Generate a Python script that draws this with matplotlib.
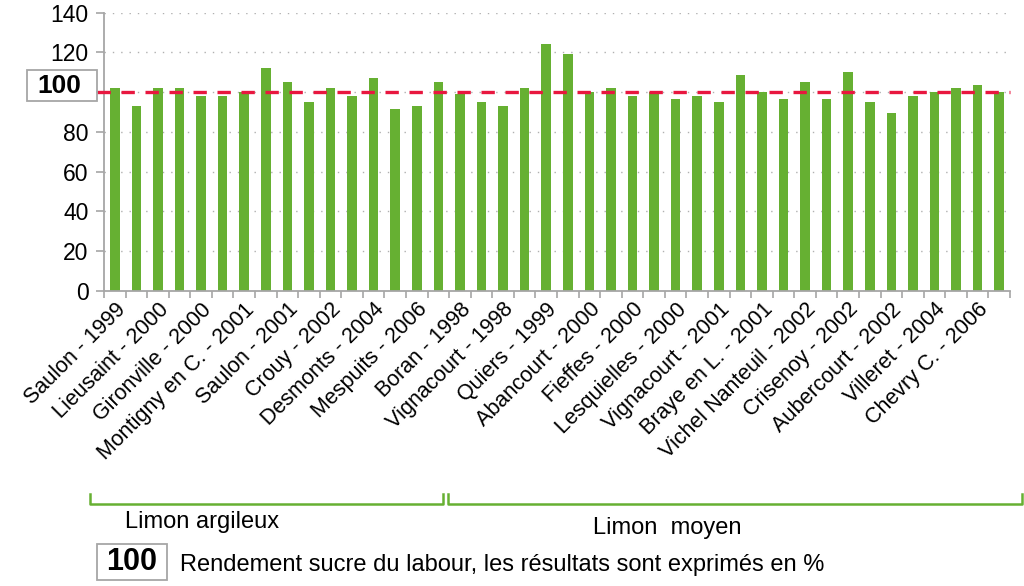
import numpy as np
import matplotlib
matplotlib.use('Agg')
import matplotlib.pyplot as plt
from matplotlib.lines import Line2D
from matplotlib.patches import Rectangle

plt.rcParams['font.family'] = ['Liberation Sans', 'DejaVu Sans']

# Rendement sucre (%), un essai par barre
vals = [102, 93, 102, 102, 98, 98, 100, 112, 105, 95, 102, 98, 107, 91.5, 93, 105,
        99, 95, 93, 102, 124, 119, 100, 102, 98, 100, 96.5, 98, 95, 108.5, 100,
        96.5, 105, 96.5, 110, 95, 89.5, 98, 100, 102, 103.5, 100]
# une étiquette sur deux barres
labels = ['Saulon - 1999', 'Lieusaint - 2000', 'Gironville - 2000', 'Montigny en C. - 2001',
          'Saulon - 2001', 'Crouy - 2002', 'Desmonts - 2004', 'Mespuits - 2006',
          'Boran - 1998', 'Vignacourt - 1998', 'Quiers - 1999', 'Abancourt - 2000',
          'Fieffes - 2000', 'Lesquielles - 2000', 'Vignacourt - 2001', 'Braye en L. - 2001',
          'Vichel Nanteuil - 2002', 'Crisenoy - 2002', 'Aubercourt - 2002',
          'Villeret - 2004', 'Chevry C. - 2006']
groups = ['Limon argileux', 'Limon  moyen']
yticks = [0, 20, 40, 60, 80, 100, 120, 140]
reference = 100

green = '#66B032'
red = '#E8173F'
gray = '#A6A6A6'

W, H = 1024, 586
def fx(px):
    return px / W
def fy(py):
    return 1 - py / H

fig = plt.figure(figsize=(W / 100, H / 100), dpi=100)
ax = fig.add_axes([fx(104), fy(290.7), 906 / W, 278 / H])

x = np.arange(len(vals))
ax.bar(x, vals, width=0.45, color=green, zorder=2)
ax.set_xlim(-0.5, len(vals) - 0.5)
ax.set_ylim(0, 140)
ax.set_yticks(yticks)
# le 100 est remplacé par l'encadré
ax.set_yticklabels(['' if t == reference else str(t) for t in yticks])
ax.yaxis.grid(True, linestyle=(0, (1, 5)), color='#B0B0B0', linewidth=1)
ax.set_axisbelow(True)

for s in ['top', 'right']:
    ax.spines[s].set_visible(False)
for s in ['left', 'bottom']:
    ax.spines[s].set_color(gray)
    ax.spines[s].set_linewidth(1.3)

ax.tick_params(axis='y', length=6, width=1.2, color=gray, labelsize=16.5, pad=5)

ax.set_xticks(x[::2])
ax.set_xticklabels(labels, rotation=45, ha='right', rotation_mode='anchor', fontsize=15.5)
ax.set_xticks(np.arange(-0.5, len(vals)), minor=True)
ax.tick_params(axis='x', which='major', length=0, pad=6)
ax.tick_params(axis='x', which='minor', length=5, width=1.2, color=gray)

# ligne de référence 100
ax.plot([-7 / 906, 1], [reference, reference], transform=ax.get_yaxis_transform(),
        color=red, linewidth=2.4, linestyle=(0, (4, 3.2)), clip_on=False, zorder=3)

# encadré "100" à gauche
fig.add_artist(Rectangle((fx(27), fy(101)), 70 / W, 31 / H, transform=fig.transFigure,
                         fill=False, edgecolor=gray, linewidth=1.3))
fig.text(fx(59), fy(86), str(reference), fontsize=19, fontweight='bold',
         ha='center', va='center')

# accolades des groupes de sol
bracket_kw = dict(color=green, linewidth=1.8, transform=fig.transFigure)
fig.add_artist(Line2D([fx(90), fx(90), fx(443), fx(443)],
                      [fy(494), fy(504), fy(504), fy(494)], **bracket_kw))
fig.add_artist(Line2D([fx(448), fx(448), fx(1022), fx(1022)],
                      [fy(494), fy(504), fy(504), fy(494)], **bracket_kw))
fig.text(fx(125), fy(522), groups[0], fontsize=17, va='center')
fig.text(fx(593), fy(528), groups[1], fontsize=17, va='center')

# légende en bas
fig.add_artist(Rectangle((fx(97), fy(580)), 70 / W, 36 / H, transform=fig.transFigure,
                         fill=False, edgecolor=gray, linewidth=1.3))
fig.text(fx(132), fy(562), str(reference), fontsize=22, fontweight='bold',
         ha='center', va='center')
fig.text(fx(180), fy(565), 'Rendement sucre du labour, les résultats sont exprimés en %',
         fontsize=17, va='center')

fig.savefig('out.png', dpi=100)
